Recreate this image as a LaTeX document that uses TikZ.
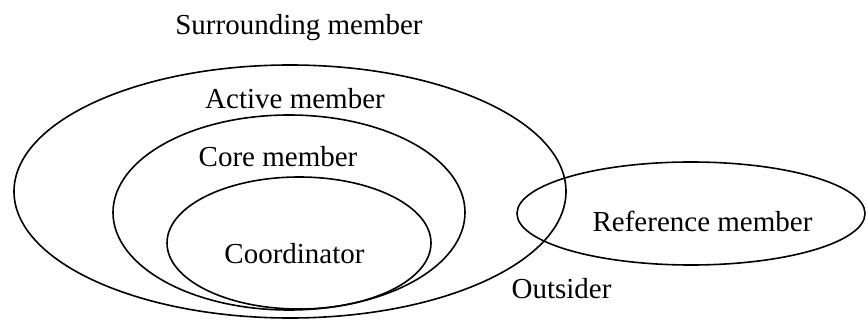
\documentclass[tikz,border=0pt]{standalone}
\usepackage{fontspec}
\setmainfont{Liberation Serif}
\begin{document}
\begin{tikzpicture}[x=1pt,y=-1pt,
  ring/.style={draw=black,line width=1.6pt},
  lbl/.style={anchor=base,inner sep=0pt,font=\fontsize{29}{34}\selectfont}]
\useasboundingbox (0,0) rectangle (866,320);
\draw[ring] (290,191.5) ellipse [x radius=276, y radius=126.5];
\draw[ring] (289,212.5) ellipse [x radius=176, y radius=97.5];
\draw[ring] (299,243) ellipse [x radius=132, y radius=66];
\draw[ring] (691,213.5) ellipse [x radius=174, y radius=51.5];
\node[lbl] (surr) at (299,35) {Surrounding member};
\node[lbl] (active) at (295,109) {Active member};
\node[lbl] (core) at (278,167) {Core member};
\node[lbl] (coord) at (294.5,263) {Coordinator};
\node[lbl] (ref) at (702.5,232) {Reference member};
\node[lbl] (out) at (561.5,298) {Outsider};
\end{tikzpicture}
\end{document}
